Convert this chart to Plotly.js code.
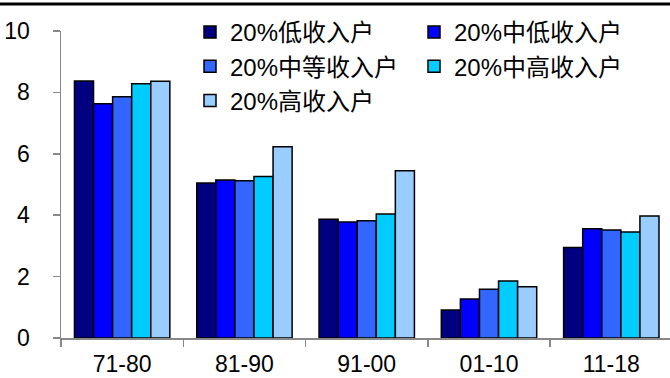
<!DOCTYPE html>
<html>
<head>
<meta charset="utf-8">
<script src="https://cdn.plot.ly/plotly-3.0.1.min.js"></script>
<style>
  html, body { margin: 0; padding: 0; background: #fff; }
  #chart { width: 670px; height: 378px; }
</style>
</head>
<body>
<div id="chart"></div>
<script>
// Decades on the category axis
const periods = ['71-80', '81-90', '91-00', '01-10', '11-18'];

// Series names (income quintiles)
const seriesNames = ['20%低收入户', '20%中低收入户', '20%中等收入户', '20%中高收入户', '20%高收入户'];

// Values per quintile, one entry per period
const lowIncome     = [8.37, 5.05, 3.87, 0.91, 2.95];
const midLowIncome  = [7.63, 5.15, 3.78, 1.27, 3.56];
const middleIncome  = [7.86, 5.12, 3.82, 1.59, 3.52];
const midHighIncome = [8.28, 5.26, 4.04, 1.86, 3.45];
const highIncome    = [8.36, 6.23, 5.45, 1.67, 3.97];

const seriesValues = [lowIncome, midLowIncome, middleIncome, midHighIncome, highIncome];
const seriesColors = ['#000080', '#0000FF', '#3366FF', '#00CCFF', '#99CCFF'];

// Y axis ticks
const yTicks = [0, 2, 4, 6, 8, 10];

const W = 670, H = 378;
const M = { l: 61, r: 0, t: 31, b: 40 };
const plotW = W - M.l - M.r;
const plotH = H - M.t - M.b;

const latin = '"Liberation Sans", Arial, "Noto Sans CJK SC", sans-serif';

const traces = seriesNames.map((name, i) => ({
  type: 'bar',
  name: name,
  x: periods,
  y: seriesValues[i],
  marker: { color: seriesColors[i], line: { color: '#000000', width: 1.5 } },
  hoverinfo: 'x+y+name'
}));

// Legend placement in pixels, converted to paper units
const legendLeftPx = 190;
const legendTopPx = 10;

// Black rule across the top of the figure
const topRulePx = 4;

const layout = {
  width: W,
  height: H,
  margin: M,
  paper_bgcolor: '#ffffff',
  plot_bgcolor: '#ffffff',
  barmode: 'group',
  bargap: 0.22,
  bargroupgap: 0,
  font: { family: latin, size: 23, color: '#000000' },
  showlegend: true,
  legend: {
    orientation: 'h',
    x: (legendLeftPx - M.l) / plotW,
    xanchor: 'left',
    y: 1 + (M.t - legendTopPx) / plotH,
    yanchor: 'top',
    entrywidth: 179,
    entrywidthmode: 'pixels',
    traceorder: 'normal',
    font: { family: latin, size: 24, color: '#000000' },
    bgcolor: 'rgba(0,0,0,0)',
    borderwidth: 0
  },
  xaxis: {
    type: 'category',
    range: [-0.5, 4.48],
    tickson: 'boundaries',
    ticks: 'outside',
    ticklen: 7,
    tickwidth: 1.5,
    tickcolor: '#888888',
    ticklabelstandoff: 5,
    showline: true,
    linecolor: '#888888',
    linewidth: 1.5,
    showgrid: false,
    zeroline: false,
    tickfont: { family: latin, size: 23, color: '#000000' },
    fixedrange: true
  },
  yaxis: {
    range: [0, 10],
    tickvals: yTicks,
    ticktext: yTicks.map(String),
    ticks: 'outside',
    ticklen: 7,
    tickwidth: 1.5,
    tickcolor: '#888888',
    ticklabelstandoff: 18,
    showline: true,
    linecolor: '#888888',
    linewidth: 1.5,
    showgrid: false,
    zeroline: false,
    tickfont: { family: latin, size: 23, color: '#000000' },
    fixedrange: true
  },
  shapes: [{
    type: 'line',
    xref: 'paper', yref: 'paper',
    x0: -M.l / plotW - 0.01, x1: 1.01,
    y0: 1 + (M.t - topRulePx) / plotH,
    y1: 1 + (M.t - topRulePx) / plotH,
    line: { color: '#000000', width: 3 }
  }]
};

Plotly.newPlot('chart', traces, layout, { displayModeBar: false, staticPlot: true });
</script>
</body>
</html>
